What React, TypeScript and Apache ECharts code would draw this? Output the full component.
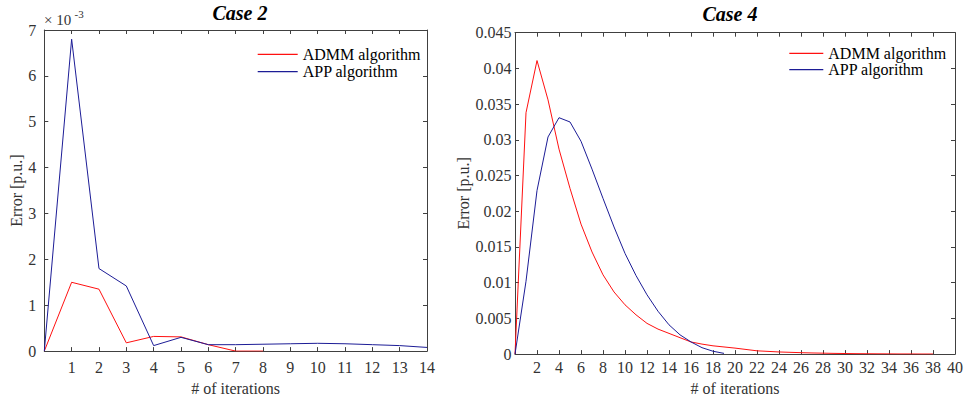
import React, { useEffect, useRef } from "react";
import * as echarts from "echarts";

// Case 2 (values in p.u.), index = iteration number
const CASE2_ADMM = [0, 0.0015, 0.00135, 0.00018, 0.00032, 0.00031, 0.00014, 0, 0];
const CASE2_APP = [0, 0.0068, 0.0018, 0.00142, 0.00012, 0.0003, 0.00014, 0.00014, 0.00015, 0.00016, 0.00017, 0.00016, 0.00014, 0.00012, 0.00008];

// Case 4
const CASE4_ADMM = [
  0, 0.0338, 0.0411, 0.0356, 0.0287, 0.0232, 0.0182, 0.0143, 0.0111, 0.0087,
  0.0069, 0.0055, 0.0043, 0.0035, 0.0029, 0.0023, 0.0017, 0.0014, 0.00116, 0.001,
  0.00084, 0.00065, 0.00046, 0.00038, 0.0003, 0.00025, 0.0002, 0.00016, 0.00013, 0.0001,
  0.00008, 0.00006, 0.00005, 0.00004, 0.00003, 0.00002, 0.00002, 0.00001, 0.00001,
];
const CASE4_APP = [
  0, 0.0102, 0.0229, 0.0304, 0.0331, 0.0325, 0.0298, 0.0259, 0.0218, 0.0178,
  0.0141, 0.011, 0.0083, 0.006, 0.0041, 0.0027, 0.0017, 0.0009, 0.0004, 0.0001,
];

const SERIES_NAMES = ["ADMM algorithm", "APP algorithm"];
const TITLES = ["Case 2", "Case 4"];
const X_NAME = "# of iterations";
const Y_NAME = "Error [p.u.]";
const EXP_LABEL = ["× 10", "-3"];

const RED = "#ff1010";
const BLUE = "#1c1c96";
const AXIS = "#404040";
const TEXT = "#333333";
const FONT = "'Liberation Serif', 'Times New Roman', serif";

const toPts = (arr: number[]) => arr.map((v, i) => [i, v]);

export default function App() {
  const ref = useRef<HTMLDivElement>(null);
  useEffect(() => {
    if (!ref.current) return;
    const chart = echarts.init(ref.current, undefined, { renderer: "svg" });
    const tick = { show: true, inside: true, length: 4, lineStyle: { color: AXIS, width: 1 } };
    const line = { show: true, lineStyle: { color: AXIS, width: 1 } };
    const lbl = { fontFamily: FONT, fontSize: 16, color: TEXT };
    const mkX = (grid: number, max: number, interval: number, margin: number, gap: number, pos: "bottom" | "top") => ({
      type: "value",
      gridIndex: grid,
      position: pos,
      min: 0,
      max,
      interval,
      axisLine: { ...line, onZero: false },
      axisTick: tick,
      splitLine: { show: false },
      axisLabel:
        pos === "bottom"
          ? { ...lbl, margin, formatter: (v: number) => (v === 0 ? "" : String(v)) }
          : { show: false },
      name: pos === "bottom" ? X_NAME : "",
      nameLocation: "middle",
      nameGap: gap,
      nameTextStyle: lbl,
    });
    const mkY = (grid: number, max: number, interval: number, margin: number, gap: number, pos: "left" | "right", fmt?: (v: number) => string) => ({
      type: "value",
      gridIndex: grid,
      position: pos,
      min: 0,
      max,
      interval,
      axisLine: { ...line, onZero: false },
      axisTick: tick,
      splitLine: { show: false },
      axisLabel: pos === "left" ? { ...lbl, margin, formatter: fmt } : { show: false },
      name: pos === "left" ? Y_NAME : "",
      nameLocation: "middle",
      nameGap: gap,
      nameRotate: 90,
      nameTextStyle: lbl,
    });
    const legendBase = {
      orient: "vertical",
      icon: "rect",
      itemHeight: 1.2,
      padding: 0,
      data: SERIES_NAMES,
      selectedMode: false,
    };
    chart.setOption({
      animation: false,
      title: [
        {
          text: TITLES[0],
          left: 240,
          top: 3,
          textAlign: "center",
          padding: 0,
          textStyle: { fontFamily: FONT, fontSize: 20, fontStyle: "italic", fontWeight: "bold", color: "#000" },
        },
        {
          text: TITLES[1],
          left: 730,
          top: 4,
          textAlign: "center",
          padding: 0,
          textStyle: { fontFamily: FONT, fontSize: 20, fontStyle: "italic", fontWeight: "bold", color: "#000" },
        },
      ],
      legend: [
        {
          ...legendBase,
          left: 257.7,
          top: 46.3,
          itemWidth: 40,
          itemGap: 1.4,
          textStyle: { fontFamily: FONT, fontSize: 16, color: "#000", lineHeight: 16 },
        },
        {
          ...legendBase,
          left: 789.3,
          top: 45.3,
          itemWidth: 34,
          itemGap: 0.4,
          textStyle: { fontFamily: FONT, fontSize: 16, color: "#000", lineHeight: 14 },
        },
      ],
      grid: [
        { left: 44.3, top: 30, width: 382.7, height: 323 },
        { left: 515, top: 32.7, width: 440, height: 323.3 },
      ],
      xAxis: [
        mkX(0, 14, 1, 8, 25, "bottom"),
        mkX(0, 14, 1, 8, 25, "top"),
        mkX(1, 40, 2, 5, 22, "bottom"),
        mkX(1, 40, 2, 5, 22, "top"),
      ],
      yAxis: [
        mkY(0, 0.007, 0.001, 8, 18, "left", (v: number) => String(Math.round(v * 1000))),
        mkY(0, 0.007, 0.001, 8, 18, "right"),
        mkY(1, 0.045, 0.005, 3.5, 42.5, "left", (v: number) => (v === 0 ? "0" : String(parseFloat(v.toFixed(3))))),
        mkY(1, 0.045, 0.005, 3.5, 42.5, "right"),
      ],
      graphic: [
        {
          type: "text",
          left: 44,
          top: 12,
          style: { text: EXP_LABEL[0], fontFamily: FONT, fontSize: 15, fill: TEXT },
        },
        {
          type: "text",
          left: 74.5,
          top: 8,
          style: { text: EXP_LABEL[1], fontFamily: FONT, fontSize: 11, fill: TEXT },
        },
      ],
      series: [
        {
          name: SERIES_NAMES[0],
          type: "line",
          xAxisIndex: 0,
          yAxisIndex: 0,
          data: toPts(CASE2_ADMM),
          symbol: "none",
          lineStyle: { color: RED, width: 1 },
          itemStyle: { color: RED },
          z: 3,
        },
        {
          name: SERIES_NAMES[1],
          type: "line",
          xAxisIndex: 0,
          yAxisIndex: 0,
          data: toPts(CASE2_APP),
          symbol: "none",
          lineStyle: { color: BLUE, width: 1 },
          itemStyle: { color: BLUE },
          z: 4,
        },
        {
          name: SERIES_NAMES[0],
          type: "line",
          xAxisIndex: 2,
          yAxisIndex: 2,
          data: toPts(CASE4_ADMM),
          symbol: "none",
          lineStyle: { color: RED, width: 1 },
          itemStyle: { color: RED },
          z: 3,
        },
        {
          name: SERIES_NAMES[1],
          type: "line",
          xAxisIndex: 2,
          yAxisIndex: 2,
          data: toPts(CASE4_APP),
          symbol: "none",
          lineStyle: { color: BLUE, width: 1 },
          itemStyle: { color: BLUE },
          z: 4,
        },
      ],
    });
    return () => chart.dispose();
  }, []);
  return (
    <div
      ref={ref}
      style={{ position: "absolute", left: 0, top: 0, width: 966, height: 401, background: "#fff" }}
    />
  );
}
